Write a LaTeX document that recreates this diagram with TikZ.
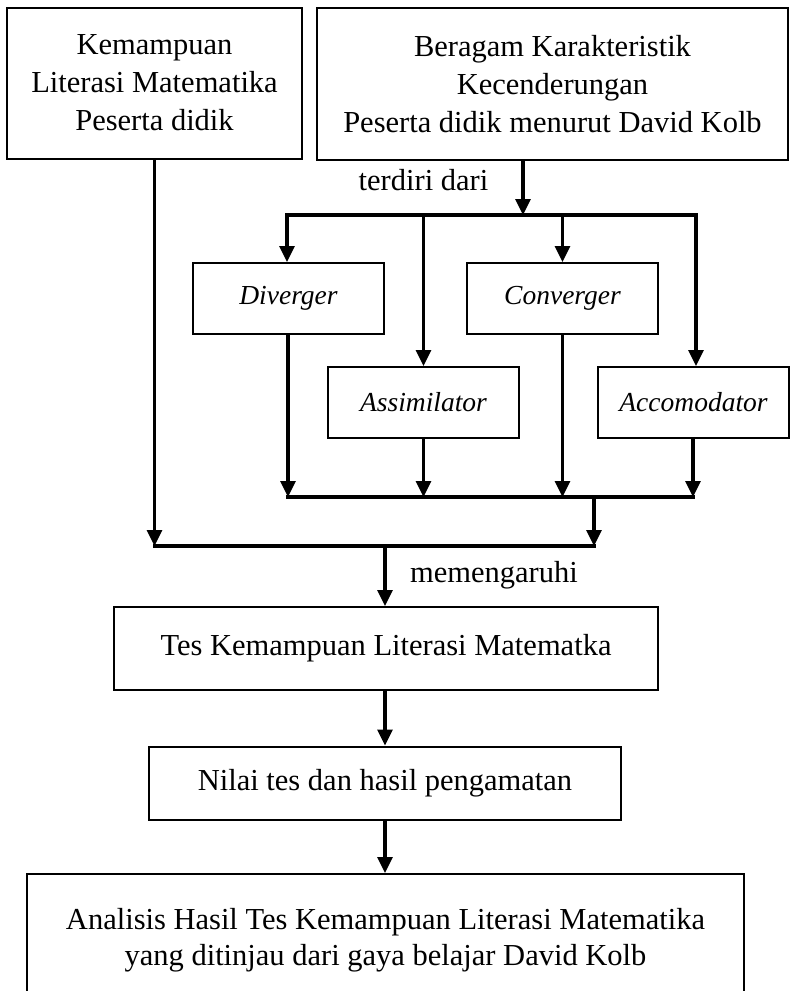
\documentclass[tikz,border=0pt]{standalone}
\usepackage{fontspec}
\setmainfont{Liberation Serif}
\usetikzlibrary{arrows.meta}
\begin{document}
\begin{tikzpicture}[x=1pt,y=-1pt,
  box/.style={draw, line width=2pt, rectangle, inner sep=0pt, align=center,
    font=\fontsize{30.5}{38}\selectfont},
  stylebox/.style={box, font=\fontsize{27.5}{33}\selectfont\itshape,
    minimum width=191pt, minimum height=71pt},
  link/.style={line width=3.2pt, line cap=rect},
  flow/.style={line width=3.2pt, -{Triangle[width=15pt,length=16pt]}},
  lbl/.style={font=\fontsize{30.5}{38}\selectfont, inner sep=0pt}
]
\useasboundingbox (0,0) rectangle (790,991);

% top boxes
\node[box, minimum width=295pt, minimum height=151pt] (lit) at (154.5,83)
  {Kemampuan\\Literasi Matematika\\Peserta didik};
\node[box, minimum width=471pt, minimum height=152pt] (kolb) at (552.5,84)
  {Beragam Karakteristik\\Kecenderungan\\Peserta didik menurut David Kolb};

% learning style boxes
\node[stylebox] (div)   at (288.5,298.5) {Diverger};
\node[stylebox] (conv)  at (562.5,298.5) {Converger};
\node[stylebox] (assim) at (423.5,402.5) {Assimilator};
\node[stylebox] (acc)   at (693.5,402.5) {Accomodator};

% lower chain
\node[box, minimum width=544pt, minimum height=83pt] (tes) at (386,648.5)
  {Tes Kemampuan Literasi Matematka};
\node[box, minimum width=472pt, minimum height=73pt] (nilai) at (385,783)
  {Nilai tes dan hasil pengamatan};
\node[box, minimum width=717pt, minimum height=132pt,
  font=\fontsize{30.5}{35.5}\selectfont] (anal) at (385.5,940)
  {Analisis Hasil Tes Kemampuan Literasi Matematika\\yang ditinjau dari gaya belajar David Kolb};

% labels
\node[lbl] (terdiri) at (423.5,180) {terdiri dari};
\node[lbl] (memeng) at (494,575) {memengaruhi};

% bus points
\coordinate (split) at (523,215);
\coordinate (tbl) at (287,215);
\coordinate (tbr) at (696,215);
\coordinate (merge) at (594,497);
\coordinate (bbl) at (288,497);
\coordinate (bbr) at (693,497);
\coordinate (join) at (385,546);

% splitting into the four styles
\draw[flow] (kolb.south -| split) -- (split);
\draw[link] (tbl) -- (tbr);
\draw[flow] (tbl) -- (div.north -| tbl);
\draw[flow] (assim.north |- split) -- (assim.north);
\draw[flow] (conv.north |- split) -- (conv.north);
\draw[flow] (tbr) -- (acc.north -| tbr);

% merging the four styles
\draw[flow] (div.south -| bbl) -- (bbl);
\draw[flow] (assim.south) -- (assim.south |- merge);
\draw[flow] (conv.south) -- (conv.south |- merge);
\draw[flow] (acc.south -| bbr) -- (bbr);
\draw[link] (bbl) -- (bbr);

% joining with literacy ability
\draw[flow] (merge) -- (merge |- join);
\draw[flow] (lit.south) -- (lit.south |- join);
\draw[link] (lit.south |- join) -- (merge |- join);

% main flow
\draw[flow] (join) -- (tes.north -| join);
\draw[flow] (tes.south -| join) -- (nilai.north -| join);
\draw[flow] (nilai.south -| join) -- (anal.north -| join);
\end{tikzpicture}
\end{document}
